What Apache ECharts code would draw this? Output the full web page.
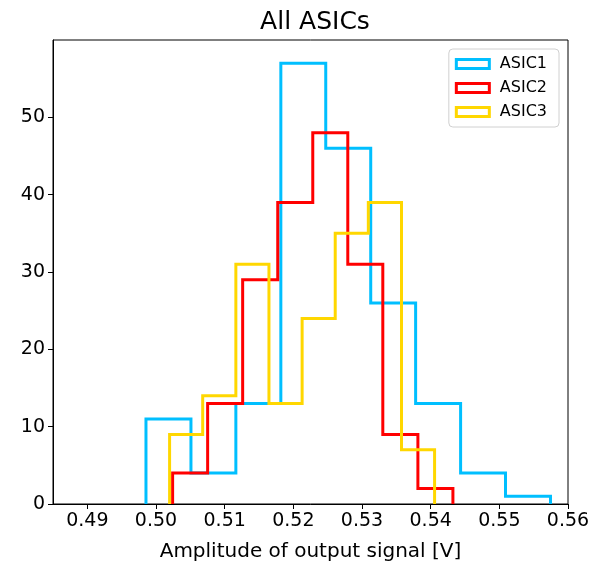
<!DOCTYPE html>
<html>
<head>
<meta charset="utf-8">
<script src="https://cdn.jsdelivr.net/npm/echarts@6/dist/echarts.min.js"></script>
<style>
  html, body { margin: 0; padding: 0; background: #fff; }
  #chart { width: 601px; height: 562px; }
</style>
</head>
<body>
<div id="chart"></div>
<script>
// Bin edges and counts
const asic1Edges = [0.49854, 0.50509, 0.51163, 0.51818, 0.52472, 0.53127, 0.53781, 0.54436, 0.55090, 0.55745];
const asic1Counts = [11, 4, 13, 57, 46, 26, 13, 4, 1];
const asic2Edges = [0.50242, 0.50752, 0.51262, 0.51773, 0.52283, 0.52793, 0.53303, 0.53814, 0.54324];
const asic2Counts = [4, 13, 29, 39, 48, 31, 9, 2];
const asic3Edges = [0.50198, 0.50680, 0.51163, 0.51645, 0.52128, 0.52610, 0.53092, 0.53575, 0.54057];
const asic3Counts = [9, 14, 31, 13, 24, 35, 39, 7];

const seriesNames = ['ASIC1', 'ASIC2', 'ASIC3'];
const seriesColors = ['#00BFFF', '#FF0000', '#FFD700'];
const xTicks = [0.49, 0.50, 0.51, 0.52, 0.53, 0.54, 0.55, 0.56];
const yTicks = [0, 10, 20, 30, 40, 50];

function stepOutline(edges, counts) {
  const pts = [[edges[0], 0]];
  for (let i = 0; i < counts.length; i++) {
    pts.push([edges[i], counts[i]]);
    pts.push([edges[i + 1], counts[i]]);
  }
  pts.push([edges[edges.length - 1], 0]);
  return pts;
}

const allEdges = [asic1Edges, asic2Edges, asic3Edges];
const allCounts = [asic1Counts, asic2Counts, asic3Counts];

const hollowRect = 'path://M0,0 L36,0 L36,12 L0,12 Z M3,3 L3,9 L33,9 L33,3 Z';

const chart = echarts.init(document.getElementById('chart'), null, { renderer: 'canvas' });
const font = 'DejaVu Sans';

chart.setOption({
  animation: false,
  backgroundColor: '#fff',
  title: {
    text: 'All ASICs',
    left: 310,
    top: 5,
    textAlign: 'center',
    textStyle: { fontFamily: font, fontSize: 25, fontWeight: 'normal', color: '#000' }
  },
  grid: {
    left: 53, right: 33, top: 40, bottom: 58,
    containLabel: false,
    outerBoundsMode: 'none',
    show: true, borderColor: '#000', borderWidth: 1, backgroundColor: 'transparent'
  },
  legend: {
    orient: 'vertical',
    right: 42,
    top: 49,
    backgroundColor: '#fff',
    borderColor: '#d0d0d0',
    borderWidth: 1,
    borderRadius: 4,
    padding: [7, 12, 7, 6],
    itemGap: 8,
    itemWidth: 36,
    itemHeight: 12,
    icon: hollowRect,
    textStyle: { fontFamily: font, fontSize: 16, color: '#000', padding: [0, 0, 0, 4] },
    data: seriesNames.map((n, i) => ({ name: n, icon: hollowRect, itemStyle: { color: seriesColors[i] } }))
  },
  xAxis: {
    type: 'value',
    min: 0.485,
    max: 0.56,
    name: 'Amplitude of output signal [V]',
    nameLocation: 'middle',
    nameGap: 38,
    nameTextStyle: { fontFamily: font, fontSize: 20, color: '#000' },
    axisLine: { show: true, lineStyle: { color: '#000', width: 1 } },
    axisTick: { show: true, inside: false, length: 5, customValues: xTicks, lineStyle: { color: '#000' } },
    axisLabel: {
      show: true, margin: 8, customValues: xTicks,
      formatter: v => v.toFixed(2),
      fontFamily: font, fontSize: 19, color: '#000'
    },
    splitLine: { show: false }
  },
  yAxis: {
    type: 'value',
    min: 0,
    max: 60,
    axisLine: { show: true, lineStyle: { color: '#000', width: 1 } },
    axisTick: { show: true, inside: false, length: 5, customValues: yTicks, lineStyle: { color: '#000' } },
    axisLabel: {
      show: true, margin: 8, customValues: yTicks,
      fontFamily: font, fontSize: 19, color: '#000'
    },
    splitLine: { show: false }
  },
  series: seriesNames.map((n, i) => ({
    name: n,
    type: 'line',
    data: stepOutline(allEdges[i], allCounts[i]),
    showSymbol: false,
    symbol: 'none',
    color: seriesColors[i],
    itemStyle: { color: seriesColors[i] },
    lineStyle: { color: seriesColors[i], width: 3, join: 'miter' },
    z: 2 + i,
    clip: true
  }))
});
</script>
</body>
</html>
